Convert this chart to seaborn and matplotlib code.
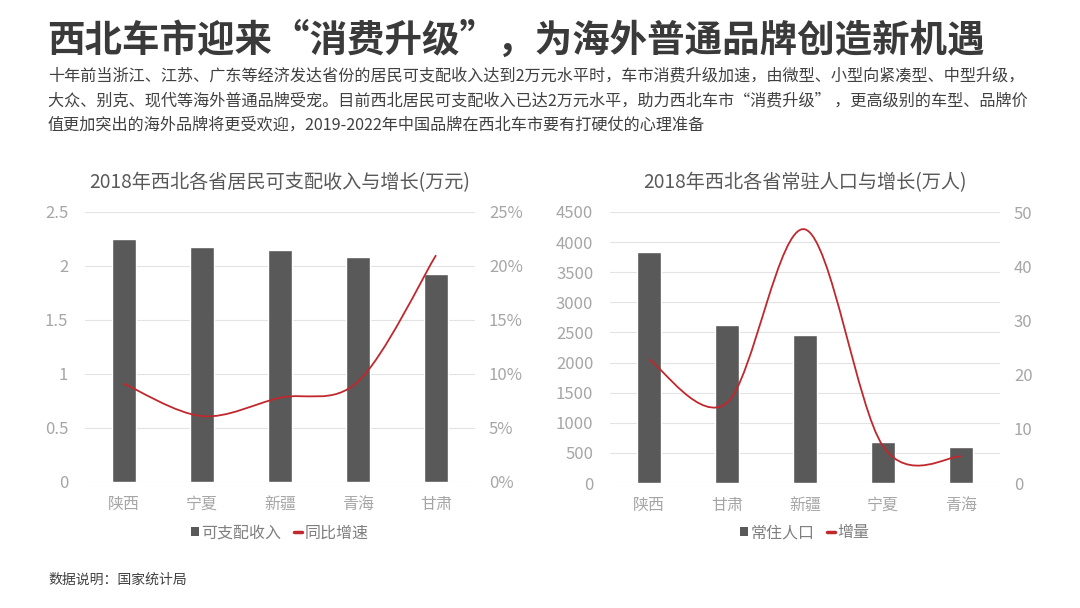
import numpy as np
import pandas as pd
import seaborn as sns
import matplotlib.pyplot as plt
from matplotlib.path import Path
from matplotlib.patches import PathPatch, Patch
from matplotlib.lines import Line2D
from matplotlib.ticker import FuncFormatter, MultipleLocator

# 数据
收入省份 = ['陕西', '宁夏', '新疆', '青海', '甘肃']
可支配收入 = [2.25, 2.18, 2.15, 2.08, 1.93]
同比增速 = [0.091, 0.061, 0.078, 0.093, 0.210]

人口省份 = ['陕西', '甘肃', '新疆', '宁夏', '青海']
常住人口 = [3840, 2630, 2450, 685, 600]
增量 = [22.8, 14.8, 46.8, 6.8, 4.9]

sns.set_theme(style='white')
plt.rcParams['font.family'] = ['Noto Sans CJK SC', 'DejaVu Sans']

W, H = 1080, 608
BAR = '#595959'
RED = '#c0282d'
TICK = '#a6a6a6'
TXT = '#404040'


def px(x, y):
    return x / W, 1 - y / H


def smooth_path(xs, ys):
    # Excel 风格的平滑曲线（贝塞尔）
    pts = np.column_stack([xs, ys]).astype(float)
    n = len(pts)
    verts = [pts[0]]
    codes = [Path.MOVETO]
    for i in range(n - 1):
        p0 = pts[i - 1] if i > 0 else pts[i]
        p1 = pts[i]
        p2 = pts[i + 1]
        p3 = pts[i + 2] if i + 2 < n else pts[i + 1]
        c1 = p1 + (p2 - p0) / 6
        c2 = p2 - (p3 - p1) / 6
        verts += [c1, c2, p2]
        codes += [Path.CURVE4] * 3
    return Path(verts, codes)


def draw_chart(rect, cats, bars, line, title, ymax, ystep, y2max, y2step, fmt1, fmt2, labels):
    ax = fig.add_axes(rect)
    df = pd.DataFrame({'cat': cats, 'val': bars})
    sns.barplot(data=df, x='cat', y='val', color=BAR, width=0.31, ax=ax, saturation=1)
    ax.set_xlim(-0.5, len(cats) - 0.5)
    ax.set_ylim(0, ymax)
    ax.yaxis.set_major_locator(MultipleLocator(ystep))
    ax.yaxis.set_major_formatter(FuncFormatter(fmt1))
    ax.grid(axis='y', color='#e3e3e3', linewidth=0.8)
    ax.set_axisbelow(True)
    for s in ax.spines.values():
        s.set_visible(False)
    ax.set_xlabel('')
    ax.set_ylabel('')
    ax.tick_params(axis='y', colors=TICK, labelsize=12, length=0, pad=12)
    ax.tick_params(axis='x', colors=TICK, labelsize=11.5, length=0, pad=10)
    ax.set_title(title, fontsize=13.8, color='#595959', pad=17)

    ax2 = ax.twinx()
    ax2.set_ylim(0, y2max)
    ax2.yaxis.set_major_locator(MultipleLocator(y2step))
    ax2.yaxis.set_major_formatter(FuncFormatter(fmt2))
    ax2.tick_params(axis='y', colors=TICK, labelsize=12, length=0, pad=10)
    ax2.grid(False)
    for s in ax2.spines.values():
        s.set_visible(False)
    ax2.add_patch(PathPatch(smooth_path(np.arange(len(cats)), line),
                            fill=False, edgecolor=RED, linewidth=1.3))

    handles = [Patch(facecolor=BAR, edgecolor='none'),
               Line2D([], [], color=RED, linewidth=2.5)]
    x0, y0, w, h = rect
    fig.legend(handles, labels, loc='center', ncol=2, frameon=False,
               bbox_to_anchor=(x0 + w / 2, px(0, 533)[1]),
               fontsize=11.5, labelcolor='#7f7f7f', handlelength=0.5,
               handleheight=0.5, handletextpad=0.15, columnspacing=0.8)
    return ax


fig = plt.figure(figsize=(10.8, 6.08), dpi=100)
fig.patch.set_facecolor('white')

fig.text(*px(47, 40), '西北车市迎来“消费升级”，为海外普通品牌创造新机遇',
         fontsize=27, fontweight='bold', color='#3a3a3a', va='center', ha='left')
副标题 = [
    '十年前当浙江、江苏、广东等经济发达省份的居民可支配收入达到2万元水平时，车市消费升级加速，由微型、小型向紧凑型、中型升级，',
    '大众、别克、现代等海外普通品牌受宠。目前西北居民可支配收入已达2万元水平，助力西北车市“消费升级” ，更高级别的车型、品牌价',
    '值更加突出的海外品牌将更受欢迎，2019-2022年中国品牌在西北车市要有打硬仗的心理准备',
]
for i, line in enumerate(副标题):
    fig.text(*px(48, 76 + i * 24.5), line, fontsize=11.6, color=TXT, va='center', ha='left')

fig.text(*px(48, 580), '数据说明：国家统计局', fontsize=10, color=TXT, va='center', ha='left')

draw_chart([85 / W, 1 - 482 / H, 390 / W, 270 / H], 收入省份, 可支配收入, 同比增速,
           '2018年西北各省居民可支配收入与增长(万元)', 2.5, 0.5, 0.25, 0.05,
           lambda v, p: f'{v:g}', lambda v, p: f'{v * 100:.0f}%',
           ['可支配收入', '同比增速'])

draw_chart([610 / W, 1 - 483 / H, 390 / W, 271 / H], 人口省份, 常住人口, 增量,
           '2018年西北各省常驻人口与增长(万人)', 4500, 500, 50, 10,
           lambda v, p: f'{v:.0f}', lambda v, p: f'{v:.0f}',
           ['常住人口', '增量'])

plt.savefig('out.png', dpi=100, facecolor='white')
